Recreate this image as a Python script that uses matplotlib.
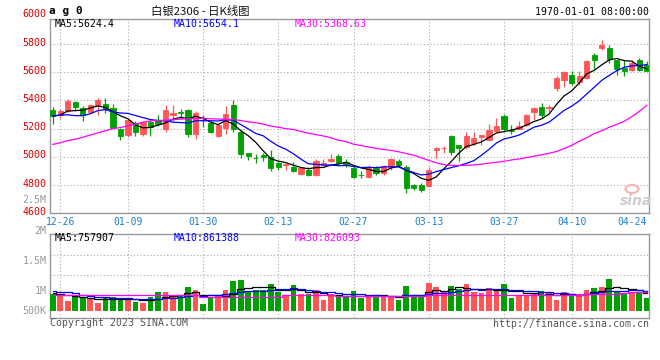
import matplotlib
matplotlib.use("Agg")
import matplotlib.pyplot as plt
import matplotlib.transforms as mtransforms
from matplotlib.patches import Ellipse

# daily candles, 12-23 .. 04-24
opens = [5335, 5294, 5323, 5388, 5347, 5318, 5371, 5376, 5347, 5194,
         5153, 5239, 5162, 5246, 5258, 5194, 5294, 5316, 5335, 5165,
         5263, 5242, 5146, 5203, 5366, 5179, 5026, 4995, 5014, 5002,
         4954, 4939, 4927, 4882, 4910, 4872, 4944, 4968, 5004, 4966,
         4922, 4874, 4858, 4922, 4886, 4930, 4970, 4930, 4800, 4798,
         4790, 5050, 5060, 5145, 5081, 5069, 5100, 5141, 5122, 5181,
         5290, 5192, 5200, 5229, 5319, 5355, 5343, 5486, 5545, 5581,
         5529, 5557, 5724, 5771, 5771, 5683, 5629, 5617, 5683, 5652]
highs = [5350, 5342, 5407, 5395, 5359, 5376, 5414, 5414, 5378, 5203,
         5275, 5256, 5256, 5263, 5299, 5371, 5371, 5342, 5342, 5323,
         5294, 5256, 5234, 5359, 5402, 5198, 5030, 5018, 5030, 5050,
         4970, 4958, 4963, 4930, 4927, 4987, 4987, 5018, 5018, 4982,
         4934, 4898, 4939, 4934, 4939, 4994, 4987, 4939, 4810, 4814,
         4930, 5071, 5078, 5157, 5081, 5176, 5176, 5157, 5236, 5272,
         5307, 5224, 5252, 5307, 5355, 5379, 5367, 5574, 5610, 5610,
         5605, 5688, 5736, 5831, 5795, 5688, 5688, 5688, 5700, 5676]
lows = [5234, 5275, 5318, 5323, 5251, 5311, 5299, 5311, 5198, 5122,
        5141, 5150, 5150, 5150, 5222, 5179, 5256, 5270, 5143, 5126,
        5210, 5170, 5138, 5162, 5179, 4994, 4978, 4954, 4970, 4898,
        4910, 4910, 4891, 4872, 4862, 4862, 4939, 4963, 4951, 4930,
        4848, 4850, 4850, 4874, 4874, 4910, 4934, 4747, 4766, 4754,
        4783, 4990, 5030, 5010, 4970, 5057, 5081, 5081, 5117, 5176,
        5176, 5165, 5195, 5219, 5260, 5276, 5319, 5469, 5493, 5510,
        5510, 5552, 5624, 5760, 5664, 5581, 5574, 5610, 5610, 5605]
closes = [5290, 5326, 5395, 5350, 5294, 5364, 5400, 5342, 5203, 5146,
          5258, 5179, 5246, 5210, 5230, 5335, 5314, 5312, 5165, 5314,
          5258, 5179, 5227, 5306, 5194, 5018, 5006, 4990, 5002, 4920,
          4930, 4951, 4903, 4922, 4872, 4970, 4958, 4987, 4956, 4939,
          4858, 4872, 4930, 4886, 4934, 4982, 4939, 4778, 4776, 4766,
          4910, 5060, 5064, 5034, 5062, 5148, 5134, 5153, 5188, 5222,
          5200, 5186, 5217, 5300, 5348, 5295, 5355, 5562, 5600, 5522,
          5574, 5681, 5688, 5795, 5695, 5624, 5610, 5664, 5617, 5610]

ma5 = [5290, 5296, 5325, 5328, 5331, 5346, 5361, 5350, 5321, 5291,
       5270, 5226, 5206, 5208, 5225, 5240, 5267, 5280, 5271, 5288,
       5273, 5246, 5229, 5257, 5233, 5185, 5150, 5103, 5042, 4987,
       4970, 4959, 4941, 4925, 4916, 4924, 4925, 4942, 4949, 4962,
       4940, 4922, 4911, 4897, 4896, 4921, 4934, 4904, 4882, 4848,
       4834, 4858, 4915, 4967, 5026, 5074, 5088, 5106, 5137, 5169,
       5179, 5190, 5203, 5225, 5250, 5269, 5303, 5372, 5432, 5467,
       5523, 5588, 5613, 5652, 5687, 5697, 5682, 5678, 5642, 5624]
ma10 = [5290, 5295, 5298, 5292, 5292, 5305, 5328, 5335, 5318, 5311,
        5308, 5293, 5278, 5264, 5258, 5255, 5246, 5243, 5240, 5256,
        5256, 5256, 5254, 5264, 5260, 5229, 5198, 5166, 5149, 5110,
        5077, 5054, 5022, 4984, 4951, 4947, 4942, 4942, 4937, 4939,
        4932, 4924, 4926, 4923, 4929, 4930, 4928, 4907, 4889, 4872,
        4877, 4896, 4910, 4924, 4937, 4954, 4973, 5011, 5052, 5098,
        5127, 5139, 5154, 5181, 5210, 5224, 5246, 5287, 5329, 5359,
        5396, 5445, 5493, 5542, 5577, 5610, 5635, 5645, 5647, 5654]
ma30 = [5088, 5100, 5115, 5125, 5138, 5155, 5170, 5185, 5200, 5208,
        5220, 5232, 5245, 5255, 5258, 5260, 5264, 5268, 5270, 5272,
        5274, 5270, 5268, 5266, 5264, 5258, 5248, 5242, 5232, 5218,
        5210, 5200, 5194, 5180, 5168, 5158, 5148, 5135, 5118, 5108,
        5090, 5080, 5070, 5060, 5052, 5046, 5036, 5024, 5012, 4994,
        4975, 4958, 4945, 4940, 4938, 4940, 4943, 4948, 4955, 4962,
        4968, 4978, 4985, 4995, 5005, 5015, 5025, 5038, 5058, 5082,
        5110, 5135, 5165, 5185, 5210, 5230, 5252, 5285, 5322, 5365]

# volume in thousands
volumes = [744, 644, 415, 600, 600, 572, 343, 572, 586, 529,
           529, 386, 343, 600, 815, 815, 629, 672, 1030, 887,
           300, 600, 629, 901, 1287, 1316, 815, 887, 915, 1173,
           815, 629, 1101, 729, 744, 887, 458, 720, 600, 600,
           844, 558, 672, 672, 629, 629, 458, 1058, 629, 672,
           1201, 1030, 858, 1058, 930, 1144, 815, 772, 987, 858,
           1144, 558, 672, 672, 772, 844, 772, 458, 815, 715,
           715, 887, 987, 1030, 1359, 844, 772, 815, 772, 558]
vol_ma5 = [780, 720, 670, 630, 601, 566, 506, 537, 535, 520,
           512, 520, 475, 477, 535, 592, 640, 706, 792, 807,
           704, 698, 689, 663, 743, 947, 990, 1041, 1044, 1021,
           921, 884, 927, 889, 804, 818, 784, 708, 682, 653,
           644, 664, 655, 669, 675, 632, 612, 689, 681, 689,
           804, 918, 878, 964, 1015, 1004, 961, 944, 930, 915,
           915, 864, 844, 781, 764, 704, 746, 704, 732, 721,
           695, 718, 824, 867, 996, 1021, 998, 964, 912, 758]
vol_ma10 = [860, 830, 800, 760, 700, 650, 610, 590, 575, 561,
            539, 513, 506, 506, 528, 552, 580, 590, 635, 671,
            648, 669, 698, 728, 775, 825, 844, 865, 854, 882,
            934, 937, 984, 967, 912, 870, 834, 817, 786, 728,
            731, 724, 681, 676, 664, 638, 638, 672, 675, 682,
            718, 765, 784, 822, 852, 904, 940, 911, 947, 965,
            960, 912, 894, 855, 839, 809, 805, 774, 757, 742,
            699, 732, 764, 800, 858, 858, 858, 894, 890, 861]
vol_ma30 = [686, 686, 686, 686, 686, 686, 686, 686, 686, 686,
            686, 686, 686, 686, 686, 686, 686, 686, 686, 686,
            620, 620, 620, 620, 620, 620, 620, 620, 620, 620,
            620, 672, 672, 672, 672, 672, 672, 672, 650, 650,
            650, 650, 650, 650, 650, 650, 650, 650, 650, 650,
            690, 690, 690, 690, 690, 690, 690, 690, 690, 690,
            690, 690, 700, 700, 700, 700, 700, 700, 700, 700,
            700, 745, 745, 745, 745, 745, 780, 800, 815, 826]

tick_idx = [1, 10, 20, 30, 40, 50, 60, 69, 79]
tick_labels = ["12-26", "01-09", "01-30", "02-13", "02-27", "03-13", "03-27", "04-10", "04-24"]
price_ticks = [6000, 5800, 5600, 5400, 5200, 5000, 4800, 4600]

RED = "#ff5555"
GREEN = "#00a000"
GRID = "#aaaaaa"
MONO = "DejaVu Sans Mono"

W, H = 660, 360
fig = plt.figure(figsize=(6.6, 3.6), dpi=100)
fig.patch.set_facecolor("white")

ax = fig.add_axes([50 / W, 1 - 213.3 / H, 599.3 / W, 194.3 / H])
axv = fig.add_axes([50 / W, 1 - 318 / H, 599.3 / W, 83.7 / H])

x = list(range(len(closes)))
colors = [RED if c >= o else GREEN for o, c in zip(opens, closes)]

# --- price panel
ax.vlines(x, lows, highs, colors=colors, linewidth=0.9, zorder=3)
ax.bar(x, [abs(c - o) for o, c in zip(opens, closes)],
       bottom=[min(o, c) for o, c in zip(opens, closes)],
       width=0.7, color=colors, edgecolor=colors, linewidth=0.6, zorder=3)

ax.plot(x, ma5, color="black", linewidth=0.9, zorder=4)
ax.plot(x, ma10, color="#0000ff", linewidth=0.9, zorder=4)
ax.plot(x, ma30, color="#ff00ff", linewidth=0.9, zorder=4)

ax.set_xlim(-0.36, 79.33)
ax.set_ylim(4600, 5977)

for p in price_ticks[1:-1]:
    ax.axhline(p, color=GRID, linewidth=0.8, linestyle=(0, (1, 2)), zorder=1)
for t in tick_idx[:-1]:
    ax.axvline(t, color=GRID, linewidth=0.8, linestyle=(0, (1, 2)), zorder=1)
    axv.axvline(t, color=GRID, linewidth=0.8, linestyle=(0, (1, 2)), zorder=1)

ax.set_yticks([])
ax.set_xticks(tick_idx)
ax.set_xticklabels(tick_labels, fontfamily=MONO, fontsize=7, color="#1a7fd0")
ax.get_xticklabels()[-1].set_ha("right")
ax.tick_params(axis="x", length=0, pad=2.5)

trans = mtransforms.blended_transform_factory(ax.transAxes, ax.transData)
for p in price_ticks:
    ax.text(-0.006, p + 10, str(p), transform=trans, ha="right", va="center",
            fontfamily=MONO, fontsize=7.2, color="#e00000")

ax.text(0.007, 0.972, "MA5:5624.4", transform=ax.transAxes, va="center",
        fontfamily=MONO, fontsize=7.1, color="black")
ax.text(0.207, 0.972, "MA10:5654.1", transform=ax.transAxes, va="center",
        fontfamily=MONO, fontsize=7.1, color="#0000ff")
ax.text(0.408, 0.972, "MA30:5368.63", transform=ax.transAxes, va="center",
        fontfamily=MONO, fontsize=7.1, color="#ff00ff")

# sina watermark
fig.text(636 / W, 1 - 201 / H, "sina", ha="center", va="center", fontsize=10,
         style="italic", fontweight="bold", color="#cccccc")
fig.add_artist(Ellipse((632 / W, 1 - 189 / H), 13 / W, 8 / H,
                       transform=fig.transFigure, fc="none", ec="#f3b5b5", lw=1.6))

# --- volume panel
axv.bar(x, volumes, width=0.75, color=colors, zorder=3)
axv.plot(x, vol_ma5, color="black", linewidth=0.9, drawstyle="steps-mid", zorder=4)
axv.plot(x, vol_ma10, color="#0000ff", linewidth=0.9, drawstyle="steps-mid", zorder=4)
axv.plot(x, vol_ma30, color="#ff00ff", linewidth=0.9, drawstyle="steps-mid", zorder=4)
axv.set_xlim(-0.36, 79.33)
axv.set_ylim(-301, 3298)
axv.axhline(2400, color=GRID, linewidth=0.8, linestyle=(0, (1, 2)), zorder=1)
axv.axhline(1550, color=GRID, linewidth=0.8, linestyle=(0, (1, 2)), zorder=1)
axv.set_xticks([])
axv.set_yticks([])

axv.text(0.007, 0.952, "MA5:757907", transform=axv.transAxes, va="center",
         fontfamily=MONO, fontsize=7.1, color="black")
axv.text(0.207, 0.952, "MA10:861388", transform=axv.transAxes, va="center",
         fontfamily=MONO, fontsize=7.1, color="#0000ff")
axv.text(0.408, 0.952, "MA30:826093", transform=axv.transAxes, va="center",
         fontfamily=MONO, fontsize=7.1, color="#ff00ff")

for lbl, ypx in zip(["2.5M", "2M", "1.5M", "1M", "500K"], [200, 230.7, 260.7, 290.7, 310.7]):
    fig.text(46.5 / W, 1 - ypx / H, lbl, ha="right", va="center",
             fontfamily=MONO, fontsize=7.2, color="#999999")

for a in (ax, axv):
    for s in a.spines.values():
        s.set_color("#999999")
        s.set_linewidth(1.0)

# --- header / footer
fig.text(49 / W, 1 - 11 / H, "a g 0", ha="left", va="center",
         fontfamily=MONO, fontsize=8, fontweight="bold", color="black")
fig.text(200 / W, 1 - 11.5 / H, "白银2306 - 日K线图", ha="center", va="center",
         fontfamily=["Noto Sans CJK SC", "DejaVu Sans"], fontsize=8.2, color="#111111")
fig.text(649 / W, 1 - 11.7 / H, "1970-01-01 08:00:00", ha="right", va="center",
         fontfamily=MONO, fontsize=7.1, color="black")
fig.text(50 / W, 1 - 323.3 / H, "Copyright 2023 SINA.COM", ha="left", va="center",
         fontfamily=MONO, fontsize=7.1, color="#555555")
fig.text(649 / W, 1 - 324 / H, "http://finance.sina.com.cn", ha="right", va="center",
         fontfamily=MONO, fontsize=7.1, color="#555555")

fig.savefig("out.png", dpi=100)
plt.close(fig)
